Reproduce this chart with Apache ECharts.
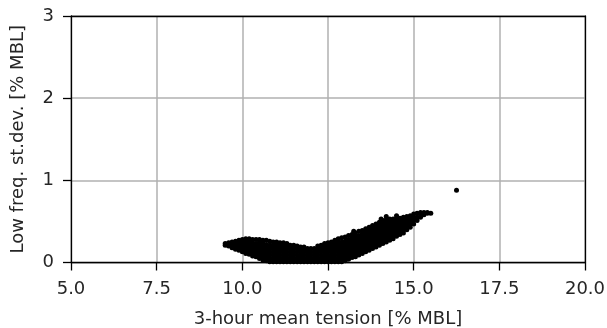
<!DOCTYPE html>
<html><head><meta charset="utf-8">
<script src="https://cdn.jsdelivr.net/npm/echarts@6/dist/echarts.min.js"></script>
<style>html,body{margin:0;padding:0;background:#fff}#c{width:607px;height:328px}</style>
</head><body><div id="c"></div>
<script>
const xTicks = [5.0, 7.5, 10.0, 12.5, 15.0, 17.5, 20.0];
const yTicks = [0, 1, 2, 3];
// columns of the point cloud: [mean tension, [st.dev. values...]]
const cloudColumns = [
 [9.5,[0.21,0.23]],
 [9.6,[0.20,0.24]],
 [9.7,[0.18,0.22,0.25]],
 [9.8,[0.16,0.20,0.24,0.26]],
 [9.9,[0.15,0.19,0.23,0.27]],
 [10.0,[0.13,0.17,0.21,0.25,0.28]],
 [10.1,[0.11,0.15,0.19,0.23,0.27,0.29]],
 [10.2,[0.10,0.14,0.18,0.22,0.26,0.29]],
 [10.3,[0.08,0.12,0.16,0.20,0.24,0.28]],
 [10.4,[0.07,0.11,0.15,0.19,0.23,0.28]],
 [10.5,[0.05,0.09,0.13,0.17,0.21,0.25,0.28]],
 [10.6,[0.03,0.07,0.11,0.15,0.19,0.23,0.27]],
 [10.7,[0.02,0.06,0.10,0.14,0.18,0.22,0.27]],
 [10.8,[0.01,0.05,0.09,0.13,0.17,0.21,0.26]],
 [10.9,[0.01,0.05,0.09,0.13,0.17,0.21,0.25]],
 [11.0,[0.01,0.05,0.09,0.13,0.17,0.21,0.25]],
 [11.1,[0.01,0.05,0.09,0.13,0.17,0.21,0.24]],
 [11.2,[0.01,0.05,0.09,0.13,0.17,0.21,0.24]],
 [11.3,[0.01,0.05,0.09,0.13,0.17,0.20,0.23]],
 [11.4,[0.01,0.05,0.09,0.13,0.17,0.21]],
 [11.5,[0.01,0.05,0.09,0.13,0.17,0.21]],
 [11.6,[0.01,0.05,0.09,0.13,0.17,0.20]],
 [11.7,[0.01,0.05,0.09,0.13,0.16,0.19]],
 [11.8,[0.01,0.05,0.09,0.13,0.16,0.19]],
 [11.9,[0.01,0.05,0.09,0.13,0.17]],
 [12.0,[0.01,0.05,0.09,0.13,0.17]],
 [12.1,[0.01,0.05,0.09,0.13,0.17]],
 [12.2,[0.01,0.05,0.09,0.13,0.17,0.20]],
 [12.3,[0.01,0.05,0.09,0.13,0.17,0.21]],
 [12.4,[0.01,0.05,0.09,0.13,0.17,0.21,0.23]],
 [12.5,[0.01,0.05,0.09,0.13,0.17,0.21,0.24]],
 [12.6,[0.01,0.05,0.09,0.13,0.17,0.21,0.25]],
 [12.7,[0.01,0.05,0.09,0.13,0.17,0.21,0.25,0.27]],
 [12.8,[0.01,0.05,0.09,0.13,0.17,0.21,0.25,0.29]],
 [12.9,[0.01,0.05,0.09,0.13,0.17,0.21,0.25,0.30]],
 [13.0,[0.02,0.06,0.10,0.14,0.18,0.22,0.26,0.31]],
 [13.1,[0.04,0.08,0.12,0.16,0.20,0.24,0.28,0.33]],
 [13.2,[0.06,0.10,0.14,0.18,0.22,0.26,0.30,0.34]],
 [13.3,[0.07,0.11,0.15,0.19,0.23,0.27,0.31,0.36]],
 [13.4,[0.09,0.13,0.17,0.21,0.25,0.29,0.33,0.38]],
 [13.5,[0.11,0.15,0.19,0.23,0.27,0.31,0.35,0.39]],
 [13.6,[0.13,0.17,0.21,0.25,0.29,0.33,0.37,0.41]],
 [13.7,[0.15,0.19,0.23,0.27,0.31,0.35,0.39,0.43]],
 [13.8,[0.17,0.21,0.25,0.29,0.33,0.37,0.41,0.45]],
 [13.9,[0.19,0.23,0.27,0.31,0.35,0.39,0.43,0.47]],
 [14.0,[0.21,0.25,0.29,0.33,0.37,0.41,0.45,0.49]],
 [14.1,[0.23,0.27,0.31,0.35,0.39,0.43,0.47,0.51]],
 [14.2,[0.25,0.29,0.33,0.37,0.41,0.45,0.49,0.52]],
 [14.3,[0.27,0.31,0.35,0.39,0.43,0.47,0.51,0.53]],
 [14.4,[0.29,0.33,0.37,0.41,0.45,0.49,0.53]],
 [14.5,[0.32,0.36,0.40,0.44,0.48,0.52,0.54]],
 [14.6,[0.34,0.38,0.42,0.46,0.50,0.54]],
 [14.7,[0.36,0.40,0.44,0.48,0.52,0.55]],
 [14.8,[0.40,0.44,0.48,0.52,0.56]],
 [14.9,[0.43,0.47,0.51,0.55,0.57]],
 [15.0,[0.47,0.51,0.55,0.59]],
 [15.1,[0.51,0.55,0.60]],
 [15.2,[0.55,0.58,0.61]],
 [15.3,[0.58,0.61]],
 [15.4,[0.60,0.61]],
 [15.5,[0.60]]
];
// scattered extra points on the upper edge and the outlier
const extraPoints = [[13.25,0.38],[14.05,0.53],[14.2,0.56],[14.5,0.57],[16.25,0.88]];

const pts = [];
cloudColumns.forEach(([x, ys]) => ys.forEach(y => pts.push([x, y])));
extraPoints.forEach(p => pts.push(p));

const chart = echarts.init(document.getElementById('c'), null, {renderer:'canvas'});
const font = 'DejaVu Sans';
const txt = '#262626';
const frameLine = {show:true, onZero:false, lineStyle:{color:'#000', width:1.3}};
chart.setOption({
  animation:false,
  grid:{left:71, right:22, top:16, bottom:65.5, outerBoundsMode:'none', containLabel:false},
  xAxis:[{type:'value', min:5, max:20, interval:2.5, position:'bottom',
    name:'3-hour mean tension [% MBL]', nameLocation:'middle', nameGap:48,
    nameTextStyle:{fontFamily:font, fontSize:18, color:txt},
    axisLine:frameLine,
    axisTick:{show:true, inside:false, length:8, lineStyle:{color:'#000', width:1.3}},
    axisLabel:{fontFamily:font, fontSize:18, color:txt, margin:18, formatter:v=>xTicks.includes(v)?v.toFixed(1):''},
    splitLine:{show:true, lineStyle:{color:'#b0b0b0', width:1.5}}},
   {type:'value', min:5, max:20, interval:2.5, position:'top',
    axisLine:frameLine, axisTick:{show:false}, axisLabel:{show:false}, splitLine:{show:false}}],
  yAxis:[{type:'value', min:0, max:3, interval:1, position:'left',
    name:'Low freq. st.dev. [% MBL]', nameLocation:'middle', nameGap:44,
    nameTextStyle:{fontFamily:font, fontSize:18, color:txt},
    axisLine:frameLine,
    axisTick:{show:true, inside:false, length:8, lineStyle:{color:'#000', width:1.3}},
    axisLabel:{fontFamily:font, fontSize:18, color:txt, margin:17, formatter:v=>yTicks.includes(v)?String(v):''},
    splitLine:{show:true, lineStyle:{color:'#b0b0b0', width:1.5}}},
   {type:'value', min:0, max:3, interval:1, position:'right',
    axisLine:frameLine, axisTick:{show:false}, axisLabel:{show:false}, splitLine:{show:false}}],
  series:[{type:'scatter', xAxisIndex:0, yAxisIndex:0, data:pts, symbolSize:5, itemStyle:{color:'#000', opacity:1}, silent:true, clip:true}]
});
</script></body></html>
